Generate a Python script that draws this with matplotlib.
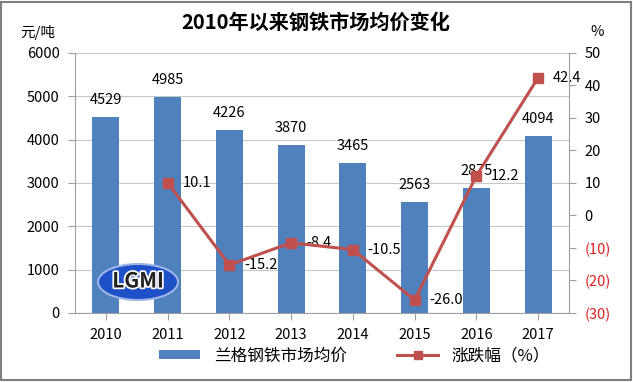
import matplotlib
matplotlib.use("Agg")
import matplotlib.pyplot as plt
from matplotlib.patches import Ellipse, Rectangle
from matplotlib.lines import Line2D
from matplotlib.patches import Patch
import matplotlib.patheffects as pe

plt.rcParams['font.family'] = ['Noto Sans CJK SC', 'DejaVu Sans']

years = ['2010', '2011', '2012', '2013', '2014', '2015', '2016', '2017']
prices = [4529, 4985, 4226, 3870, 3465, 2563, 2875, 4094]
change_years = ['2011', '2012', '2013', '2014', '2015', '2016', '2017']
changes = [10.1, -15.2, -8.4, -10.5, -26.0, 12.2, 42.4]
right_ticks = [50, 40, 30, 20, 10, 0, -10, -20, -30]

bar_color = '#4F81BD'
line_color = '#C0504D'

fig = plt.figure(figsize=(6.33, 3.82), dpi=100)
ax = fig.add_axes([75/633, 1-313/382, (569-75)/633, (313-53)/382])

x = list(range(len(years)))
ax.bar(x, prices, width=0.44, color=bar_color, zorder=2)
ax.set_xlim(-0.5, len(years)-0.5)
ax.set_ylim(0, 6000)
ax.set_yticks(range(0, 6001, 1000))
ax.set_xticks(x)
ax.set_xticklabels(years, fontsize=10.5)
ax.yaxis.grid(True, color='#C8C8C8', linewidth=0.8, zorder=0)
ax.set_axisbelow(True)
for s in ['top', 'right']:
    ax.spines[s].set_visible(False)
ax.spines['left'].set_color('#A0A0A0')
ax.spines['bottom'].set_color('#A0A0A0')
ax.tick_params(axis='y', labelsize=10.5, color='#A0A0A0', length=5, pad=6)
ax.tick_params(axis='x', labelsize=10.5, color='#A0A0A0', length=5, pad=6)
for xi, v in zip(x, prices):
    ax.text(xi, v + 230, str(v), ha='center', va='bottom', fontsize=10.5)

ax2 = ax.twinx()
cx = [years.index(y) for y in change_years]
ax2.plot(cx, changes, color=line_color, linewidth=2.2, marker='s', markersize=7, zorder=3)
ax2.set_ylim(-30, 50)
ax2.set_yticks(right_ticks)
ax2.set_yticklabels([str(t) if t >= 0 else '(%d)' % (-t) for t in right_ticks], fontsize=10.5)
for lbl, t in zip(ax2.get_yticklabels(), right_ticks):
    if t < 0:
        lbl.set_color('#E02020')
for s in ['top', 'left', 'bottom']:
    ax2.spines[s].set_visible(False)
ax2.spines['right'].set_color('#A0A0A0')
ax2.tick_params(axis='y', color='#A0A0A0', length=5, pad=6)
for xi, v in zip(cx, changes):
    ax2.text(xi + 0.24, v, '%.1f' % v, ha='left', va='center', fontsize=10.5, zorder=2)

# logo
logo = Ellipse((138/633, 1-282/382), 80/633, 36/382, transform=fig.transFigure,
               facecolor='#1E50C8', edgecolor='#9FB4E8', linewidth=1.5, zorder=5)
fig.patches.append(logo)
fig.text(138/633, 1-281/382, 'LGMI', ha='center', va='center', fontsize=15,
         fontweight='bold', color='#202020', zorder=6,
         path_effects=[pe.withStroke(linewidth=2.5, foreground='white')])

fig.text(316/633, 1-22/382, '2010年以来钢铁市场均价变化', ha='center', va='center',
         fontsize=14.5, fontweight='bold')
fig.text(38/633, 1-33/382, '元/吨', ha='center', va='center', fontsize=10.5)
fig.text(597/633, 1-32/382, '%', ha='center', va='center', fontsize=10.5)

handles = [Patch(facecolor=bar_color), Line2D([0], [0], color=line_color, lw=2.2, marker='s', markersize=6)]
fig.legend(handles, ['兰格钢铁市场均价', '涨跌幅（%）'], loc='center',
           bbox_to_anchor=(0.56, 1-356/382), ncol=2, frameon=False, fontsize=12,
           handlelength=2.5, handleheight=0.5, columnspacing=3)

fig.patches.append(Rectangle((0.002, 0.004), 0.995, 0.992, transform=fig.transFigure,
                             fill=False, edgecolor='#808080', linewidth=1.5))

fig.savefig('out.png', dpi=100)
